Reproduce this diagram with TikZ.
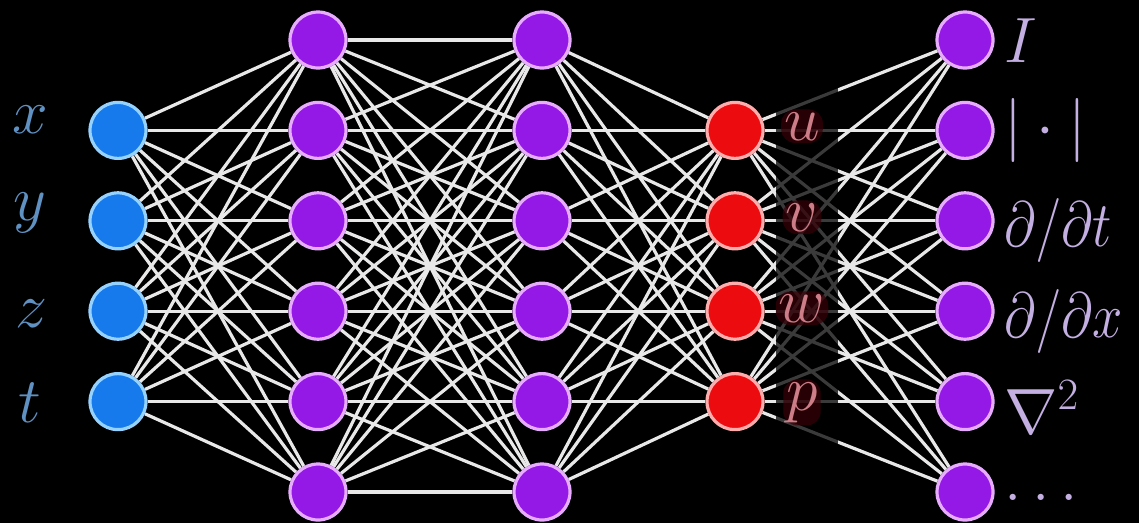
\RequirePackage{fix-cm}
\documentclass[tikz,border=0pt]{standalone}
\usepackage{graphicx}
\pgfdeclarelayer{bg}
\pgfsetlayers{bg,main}
\definecolor{bluefill}{RGB}{22,122,236}
\definecolor{blueedge}{RGB}{150,210,255}
\definecolor{purplefill}{RGB}{148,24,230}
\definecolor{purpleedge}{RGB}{232,172,255}
\definecolor{redfill}{RGB}{236,12,16}
\definecolor{rededge}{RGB}{255,172,172}
\definecolor{wirecol}{RGB}{232,232,232}
\definecolor{inlab}{RGB}{95,145,195}
\definecolor{outlab}{RGB}{205,125,135}
\definecolor{halo}{RGB}{55,0,8}
\definecolor{oplab}{RGB}{195,175,225}
\begin{document}
\begin{tikzpicture}[x=1pt,y=-1pt,
  neuron/.style={circle,minimum size=56pt,inner sep=0pt,line width=3.2pt},
  innode/.style={neuron,fill=bluefill,draw=blueedge},
  hidnode/.style={neuron,fill=purplefill,draw=purpleedge},
  outnode/.style={neuron,fill=redfill,draw=rededge},
  opnode/.style={neuron,fill=purplefill,draw=purpleedge},
  wire/.style={draw=wirecol,line width=3.2pt},
  bigfont/.style={font=\fontsize{64}{64}\selectfont},
  inlabel/.style={bigfont,text=inlab,anchor=base,inner sep=0pt},
  outlabel/.style={bigfont,text=outlab,anchor=base,fill=halo,fill opacity=0.7,text opacity=1,inner sep=3pt,rounded corners=14pt},
  oplabel/.style={bigfont,text=oplab,anchor=base west,inner sep=0pt}]
\begin{pgfonlayer}{bg}
\fill[black] (0,0) rectangle (1139,523);
\end{pgfonlayer}
\useasboundingbox (0,0) rectangle (1139,523);
\foreach \i/\yy in {1/40,2/130.4,3/220.8,4/311.2,5/401.6,6/492} {
  \node[hidnode] (h\i) at (318,\yy) {};
  \node[hidnode] (g\i) at (542,\yy) {};
  \node[opnode] (o\i) at (965,\yy) {};
}
\foreach \i/\yy in {1/130.4,2/220.8,3/311.2,4/401.6} {
  \node[innode] (a\i) at (118,\yy) {};
  \node[outnode] (r\i) at (735,\yy) {};
}
\begin{pgfonlayer}{bg}
\foreach \i in {1,...,4} {
  \foreach \j in {1,...,6} {
    \draw[wire] (a\i) -- (h\j);
    \draw[wire] (g\j) -- (r\i);
    \draw[wire] (r\i) -- (o\j);
  }
}
\foreach \i in {1,...,6} {
  \foreach \j in {1,...,6} {
    \draw[wire] (h\i) -- (g\j);
  }
}
\end{pgfonlayer}
\fill[black,fill opacity=0.75] (776,80) rectangle (838,445);
\node[inlabel] (lx) at (30,133) {$x$};
\node[inlabel] (ly) at (30,220) {$y$};
\node[inlabel] (lz) at (31,327) {$z$};
\node[inlabel] (lt) at (30,422) {$t$};
\node[outlabel] (lu) at (802,140) {$u$};
\node[outlabel] (lv) at (802,231) {$v$};
\node[outlabel] (lw) at (802,322) {$w$};
\node[outlabel] (lp) at (802,410) {$p$};
\node[oplabel] (l1) at (1004,62) {$I$};
\node[oplabel] (l2) at (1004,146) {$|\cdot|$};
\node[oplabel] (l3) at (1004,246) {\scalebox{0.85}[1]{$\partial/\partial t$}};
\node[oplabel] (l4) at (1004,337) {\scalebox{0.85}[1]{$\partial/\partial x$}};
\node[oplabel] (l5) at (1004,433) {$\nabla^2$};
\node[oplabel] (l6) at (1004,500) {$\ldots$};
\end{tikzpicture}
\end{document}
